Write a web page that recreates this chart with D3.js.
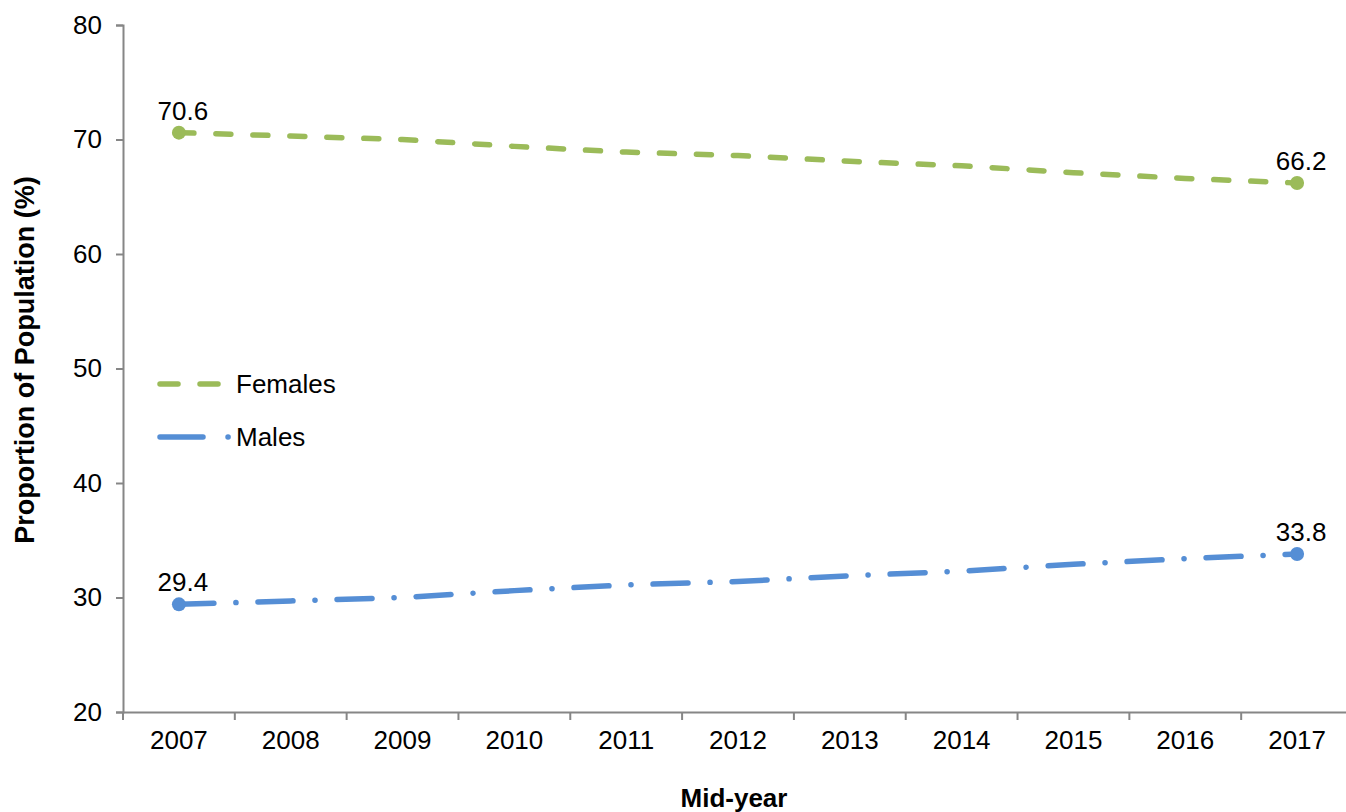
<!DOCTYPE html>
<html>
<head>
<meta charset="utf-8">
<script src="https://cdn.jsdelivr.net/npm/d3@7"></script>
<style>
  body { margin: 0; background: #fff; overflow: hidden; }
  svg { font-family: "Liberation Sans", Arial, sans-serif; }
  .axis path, .axis line { stroke: #868686; stroke-width: 2; }
  .axis text { font-size: 26px; fill: #000; }
</style>
</head>
<body>
<div id="chart"></div>
<script>
// data
const years = ['2007', '2008', '2009', '2010', '2011', '2012', '2013', '2014', '2015', '2016', '2017'];
const females = [70.6, 70.3, 70.0, 69.4, 68.9, 68.6, 68.1, 67.7, 67.1, 66.6, 66.2];
const males = [29.4, 29.7, 30.0, 30.6, 31.1, 31.4, 31.9, 32.3, 32.9, 33.4, 33.8];
const yTicks = [20, 30, 40, 50, 60, 70, 80];

const width = 1346, height = 812;
const margin = {left: 123, top: 25, bottom: 100};
const plotW = 1230;
const plotH = height - margin.top - margin.bottom;

const svg = d3.select('#chart').append('svg')
    .attr('width', width)
    .attr('height', height);

const chart = svg.append('g')
    .attr('transform', `translate(${margin.left}, ${margin.top})`);

const xScale = d3.scaleBand().domain(years).range([0, plotW]);
const yScale = d3.scaleLinear().domain([20, 80]).range([plotH, 0]);

// y axis
const yAxisG = chart.append('g')
    .attr('class', 'axis y-axis')
    .call(d3.axisLeft(yScale).tickValues(yTicks).tickSize(7).tickSizeOuter(7).tickPadding(14));

// x axis (ticks at category boundaries)
const xAxisG = chart.append('g')
    .attr('class', 'axis x-axis')
    .attr('transform', `translate(0, ${plotH})`)
    .call(d3.axisBottom(xScale).tickSize(0).tickSizeOuter(0).tickPadding(19));
xAxisG.selectAll('.tick text').attr('dy', '0.71em');
xAxisG.selectAll('.bound')
    .data(d3.range(years.length + 1))
    .join('line')
    .attr('class', 'bound')
    .attr('x1', (i) => i * xScale.step())
    .attr('x2', (i) => i * xScale.step())
    .attr('y1', 0)
    .attr('y2', 8);

// axis titles
svg.append('text')
    .attr('transform', 'translate(34, 360) rotate(-90)')
    .attr('text-anchor', 'middle')
    .attr('font-weight', 'bold')
    .attr('font-size', 27)
    .text('Proportion of Population (%)');
svg.append('text')
    .attr('x', 734)
    .attr('y', 807)
    .attr('text-anchor', 'middle')
    .attr('font-weight', 'bold')
    .attr('font-size', 26)
    .text('Mid-year');

const series = [
    {name: 'Females', values: females, color: '#9BBB59', dash: '15,22'},
    {name: 'Males', values: males, color: '#558ED5', dash: '35,22,0.1,22'}
];

const xPos = (i) => xScale(years[i]) + xScale.bandwidth() / 2;
const line = d3.line()
    .x((d, i) => xPos(i))
    .y((d) => yScale(d));

series.forEach((s) => {
    chart.append('path')
        .datum(s.values)
        .attr('d', line)
        .attr('fill', 'none')
        .attr('stroke', s.color)
        .attr('stroke-width', 5.5)
        .attr('stroke-linecap', 'round')
        .attr('stroke-dasharray', s.dash);
    const ends = [0, s.values.length - 1];
    chart.selectAll(null)
        .data(ends)
        .join('circle')
        .attr('cx', (i) => xPos(i))
        .attr('cy', (i) => yScale(s.values[i]))
        .attr('r', 7)
        .attr('fill', s.color);
    chart.selectAll(null)
        .data(ends)
        .join('text')
        .attr('x', (i) => xPos(i) + 4)
        .attr('y', (i) => yScale(s.values[i]) - 13)
        .attr('text-anchor', 'middle')
        .attr('font-size', 26)
        .text((i) => s.values[i].toFixed(1));
});

// legend
const legend = svg.append('g');
series.forEach((s, k) => {
    const y = 384 + k * 53;
    legend.append('line')
        .attr('x1', 160).attr('x2', k === 0 ? 225 : 232)
        .attr('y1', y).attr('y2', y)
        .attr('stroke', s.color)
        .attr('stroke-width', 5.5)
        .attr('stroke-linecap', 'round')
        .attr('stroke-dasharray', k === 0 ? '18,22' : '43,25,0.1,22');
    legend.append('text')
        .attr('x', 236)
        .attr('y', y + 9)
        .attr('font-size', 26)
        .text(s.name);
});
</script>
</body>
</html>
